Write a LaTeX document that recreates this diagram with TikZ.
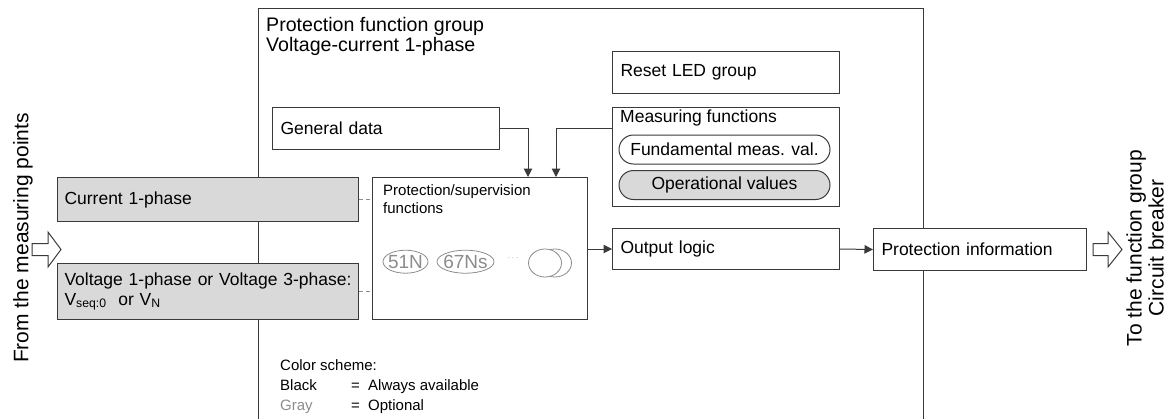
\documentclass[tikz,border=0pt]{standalone}
\usepackage{fontspec}
\setmainfont{Liberation Sans}
\usepackage{xcolor}
\usepackage{tikz}
\usetikzlibrary{arrows.meta,positioning,shapes.geometric,shapes.misc}
\definecolor{optfill}{HTML}{D9D9D9}
\definecolor{optgray}{HTML}{8C8C8C}
\definecolor{linegray}{HTML}{3A3A3A}
\newcommand{\txtbox}{\fontsize{17.5}{20}\selectfont}
\newcommand{\txtsmall}{\fontsize{15}{17.6}\selectfont}
\newcommand{\txthead}{\fontsize{19.6}{20}\selectfont}
\newcommand{\txtside}{\fontsize{21}{22}\selectfont}
\newcommand{\txtfct}{\fontsize{19}{20}\selectfont}

\begin{document}
\begin{tikzpicture}[
  x=1pt, y=-1pt,
  box/.style={draw=linegray, line width=1pt, fill=white, anchor=north west,
              align=left, inner xsep=8pt, inner ysep=0pt, font=\txtbox},
  optbox/.style={box, fill=optfill, inner xsep=7pt},
  pill/.style={draw=linegray, line width=1pt, rounded rectangle, minimum width=211pt,
               minimum height=29pt, inner sep=0pt, font=\txtbox},
  fct/.style={ellipse, draw=optgray, line width=0.8pt, inner sep=0pt, text=optgray, font=\txtfct},
  lbl/.style={anchor=base west, inner sep=0pt},
  arr/.style={-{Triangle[length=8.5pt,width=8.5pt]}, line width=1pt, draw=linegray},
  optln/.style={draw=optgray, line width=1pt, dash pattern=on 4pt off 3pt},
  hollow/.style={draw=linegray, line width=1pt, fill=white}
]
  \useasboundingbox (0,0) rectangle (1170,418);
  % Function group frame
  \node[draw=linegray, line width=1pt, anchor=north west, inner sep=0pt,
        minimum width=665pt, minimum height=440pt] (group) at (258,8) {};
  \node[lbl, font=\txthead] (grp1) at (266,31) {Protection function group};
  \node[lbl, font=\txthead] (grp2) at (266,51) {Voltage-current 1-phase};
  % Nodes
  \node[box, text width=211pt, minimum height=42pt] (reset) at (612,51) {Reset LED group};
  \node[box, text width=211pt, minimum height=42pt] (gen) at (272,107) {General data};
  \node[box, text width=211pt, minimum height=99pt] (meas) at (612,107) {};
  \node[lbl, font=\txtbox] (meastitle) at (620,122.3) {Measuring functions};
  \node[pill] (fund) at (724.5,149.5) {Fundamental meas. val.};
  \node[pill, fill=optfill] (oper) at (724.5,185) {Operational values};
  \node[box, text width=199pt, minimum height=142pt] (prot) at (372,177) {};
  \node[lbl, font=\txtsmall] (prottitle1) at (383,195.7) {Protection/supervision};
  \node[lbl, font=\txtsmall] (prottitle2) at (383,213.3) {functions};
  \node[optbox, text width=287pt, minimum height=44pt] (cur) at (57,177) {Current 1-phase};
  \node[optbox, text width=287pt, minimum height=56pt] (volt) at (57,263)
    {\mbox{Voltage 1-phase or Voltage 3-phase:}\\V\textsubscript{seq:0}\ \ or V\textsubscript{N}};
  \node[box, text width=211pt, minimum height=41pt] (outl) at (612,228) {Output logic};
  \node[box, text width=197pt, minimum height=42pt] (info) at (873,228) {Protection information};
  % Functions
  \node[fct, minimum width=45pt, minimum height=23pt] (f51) at (405.5,261.7) {\makebox[0pt]{51N}};
  \node[fct, minimum width=57pt, minimum height=23pt] (f67) at (465.5,261.7) {\makebox[0pt]{67Ns}};
  \node[text=optgray, font=\small] (dots) at (513,258) {$\cdots$};
  \node[fct, minimum width=33pt, minimum height=28pt] (fmore2) at (555,263) {};
  \node[fct, fill=white, minimum width=33pt, minimum height=28pt] (fmore1) at (545,263) {};
  % Arrows
  \path (prot.north west) ++(156,0) coordinate (in1) ++(28,0) coordinate (in2);
  \draw[arr] (gen.east) -| (in1);
  \draw[arr] (gen.east -| meas.west) -| (in2);
  \draw[arr] (prot.east |- outl.west) -- (outl.west);
  \draw[arr] (outl.east) -- (info.west);
  \draw[optln] (cur.east) -- (cur.east -| prot.west);
  \draw[optln] (volt.east) -- (volt.east -| prot.west);
  % In and out
  \draw[hollow] (32,243.5) -- (48,243.5) -- (48,232) -- (61,249.5) -- (48,267)
    -- (48,255.5) -- (32,255.5) -- cycle;
  \draw[hollow] (1093,243.5) -- (1108,243.5) -- (1108,232) -- (1122,249.5) -- (1108,267)
    -- (1108,255.5) -- (1093,255.5) -- cycle;
  \node[rotate=90, font=\txtside] (src) at (23,238) {From the measuring points};
  \node[rotate=90, align=center, font=\txtside] (dst) at (1145,248) {To the function group\\Circuit breaker};
  % Color scheme
  \node[lbl, font=\txtsmall] (cs) at (280,370) {Color scheme:};
  \node[lbl, font=\txtsmall] (csblack) at (280,390.7) {\makebox[71pt][l]{Black}\makebox[17pt][l]{=}Always available};
  \node[lbl, font=\txtsmall] (csgray) at (280,410.7) {\makebox[71pt][l]{\color{optgray}Gray}\makebox[17pt][l]{=}Optional};
\end{tikzpicture}
\end{document}
